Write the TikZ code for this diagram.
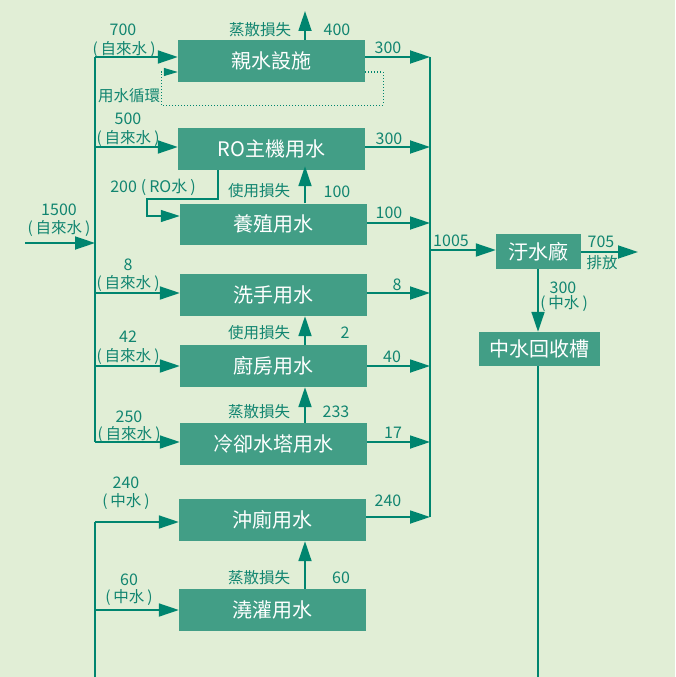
\documentclass[tikz,border=0pt]{standalone}
\usepackage{fontspec}
\setmainfont{Noto Sans CJK TC}
\usetikzlibrary{arrows.meta}
\definecolor{bg}{HTML}{E1EED6}
\definecolor{boxc}{HTML}{429E86}
\definecolor{linec}{HTML}{00856F}
\definecolor{txtc}{HTML}{118570}
\newcommand{\paren}[1]{(\hspace{3pt}#1\hspace{3pt})}
\begin{document}
\begin{tikzpicture}[x=1pt,y=-1pt,
 box/.style={fill=boxc, text=white, font=\fontsize{20}{20}\selectfont, minimum width=187pt, minimum height=42pt, inner sep=0pt, anchor=center},
 sbox/.style={fill=boxc, text=white, font=\fontsize{20}{20}\selectfont, minimum height=34pt, inner sep=0pt, anchor=center},
 flow/.style={draw=linec, line width=1.8pt, -{Triangle[length=20pt,width=13pt]}},
 tflow/.style={draw=linec, line width=1.3pt, -{Triangle[length=19pt,width=12pt]}},
 pipe/.style={draw=linec, line width=1.8pt},
 loop/.style={draw=linec, line width=1pt, dotted, -{Triangle[length=14pt,width=8pt]}},
 lbl/.style={text=txtc, font=\fontsize{16}{16}\selectfont, inner sep=0pt},
 plbl/.style={text=txtc, font=\fontsize{15.5}{15.5}\selectfont, inner sep=0pt},
]
\fill[bg] (0,0) rectangle (675,677);
\useasboundingbox (0,0) rectangle (675,677);

% boxes
\node[box] (b1) at (271.5,61) {親水設施};
\node[box] (b2) at (271.5,149) {RO主機用水};
\node[box, minimum height=41pt] (b3) at (273.5,224) {養殖用水};
\node[box] (b4) at (273.5,295) {洗手用水};
\node[box] (b5) at (273.5,366) {廚房用水};
\node[box] (b6) at (273.5,444) {冷卻水塔用水};
\node[box] (b7) at (272.5,520) {沖廁用水};
\node[box] (b8) at (272.5,610) {澆灌用水};
\node[sbox, minimum width=85pt, minimum height=35pt] (w) at (538.5,251.5) {汙水廠};
\node[sbox, minimum width=121pt] (r) at (539.5,349) {中水回收槽};

% left trunk
\coordinate (in) at (25,243);
\coordinate (tin) at (95,243);
\coordinate (a1) at (95,57);
\coordinate (a2) at (95,147);
\coordinate (a4) at (95,293);
\coordinate (a5) at (95,366);
\coordinate (a6) at (95,442);
\draw[pipe] (a1) -- (a6);
\draw[flow] (in) -- (tin);
\draw[flow] (a1) -- (a1 -| b1.west);
\draw[flow] (a2) -- (a2 -| b2.west);
\draw[flow] (a4) -- (a4 -| b4.west);
\draw[flow] (a5) -- (a5 -| b5.west);
\draw[flow] (a6) -- (a6 -| b6.west);

% lower trunk
\coordinate (a7) at (95,522);
\coordinate (a8) at (95,610);
\coordinate (abot) at (95,677);
\draw[pipe] (a7) -- (abot);
\draw[flow] (a7) -- (a7 -| b7.west);
\draw[flow] (a8) -- (a8 -| b8.west);

% collector
\coordinate (o1) at (430,57);
\coordinate (o2) at (430,147);
\coordinate (o3) at (430,223);
\coordinate (o4) at (430,293);
\coordinate (o5) at (430,366);
\coordinate (o6) at (430,442);
\coordinate (o7) at (430,517);
\coordinate (o0) at (430,250);
\draw[pipe] (o1) -- (o7);
\draw[flow] (o1 -| b1.east) -- (o1);
\draw[flow] (o2 -| b2.east) -- (o2);
\draw[flow] (o3 -| b3.east) -- (o3);
\draw[flow] (o4 -| b4.east) -- (o4);
\draw[flow] (o5 -| b5.east) -- (o5);
\draw[flow] (o6 -| b6.east) -- (o6);
\draw[flow] (o7 -| b7.east) -- (o7);
\draw[flow] (o0) -- (o0 -| w.west);

% outflow
\coordinate (e705) at (638,252);
\draw[flow] (e705 -| w.east) -- (e705);
\coordinate (wd) at (538,0);
\draw[flow] (wd |- w.south) -- (wd |- r.north);
\coordinate (rb) at (538,677);
\draw[pipe] (rb |- r.south) -- (rb);

% losses
\coordinate (k1) at (305,11);
\draw[flow] (k1 |- b1.north) -- (k1);
\draw[flow, shorten >=-4pt] (b3.north -| k1) -- (b2.south -| k1);
\draw[flow] (b5.north -| k1) -- (b4.south -| k1);
\draw[flow] (b6.north -| k1) -- (b5.south -| k1);
\draw[flow] (b8.north -| k1) -- (b7.south -| k1);

% RO water path
\coordinate (ro1) at (218,199);
\coordinate (ro2) at (147,199);
\coordinate (ro3) at (147,216);
\draw[tflow] (b2.south -| ro1) -- (ro1) -- (ro2) -- (ro3) -- (ro3 -| b3.west);

% recycling loop
\coordinate (d1) at (383,72);
\coordinate (d2) at (383,105);
\coordinate (d3) at (161,105);
\coordinate (d4) at (161,72);
\draw[loop] (d1 -| b1.east) -- (d1) -- (d2) -- (d3) -- (d4) -- (d4 -| b1.west);
\node[plbl] (lloop) at (129,96) {用水循環};

% left labels
\node[lbl] (l1500) at (59,210) {1500};
\node[plbl] (l1500b) at (59,228) {\paren{自來水}};
\node[lbl] (l700) at (123,30) {700};
\node[plbl] (l700b) at (124,49) {\paren{自來水}};
\node[lbl] (l500) at (128,119) {500};
\node[plbl] (l500b) at (128,138) {\paren{自來水}};
\node[lbl] (l200) at (153,187) {200\hspace{4pt}\paren{RO水}};
\node[lbl] (l8) at (128,265) {8};
\node[plbl] (l8b) at (128,283) {\paren{自來水}};
\node[lbl] (l42) at (128,337) {42};
\node[plbl] (l42b) at (128,356) {\paren{自來水}};
\node[lbl] (l250) at (129,417) {250};
\node[plbl] (l250b) at (129,434) {\paren{自來水}};
\node[lbl] (l240) at (126,483) {240};
\node[plbl] (l240b) at (126,502) {\paren{中水}};
\node[lbl] (l60) at (129,580) {60};
\node[plbl] (l60b) at (129,598) {\paren{中水}};

% loss labels
\node[plbl] (s1) at (260,30) {蒸散損失};
\node[lbl] (n1) at (337,30) {400};
\node[plbl] (s2) at (259,191) {使用損失};
\node[lbl] (n2) at (337,192) {100};
\node[plbl] (s3) at (259,333) {使用損失};
\node[lbl] (n3) at (345,333) {2};
\node[plbl] (s4) at (259,412) {蒸散損失};
\node[lbl] (n4) at (336,412) {233};
\node[plbl] (s5) at (259,578) {蒸散損失};
\node[lbl] (n5) at (341,578) {60};

% right labels
\node[lbl] (r1) at (388,48) {300};
\node[lbl] (r2) at (389,139) {300};
\node[lbl] (r3) at (389,213) {100};
\node[lbl] (r4) at (397,285) {8};
\node[lbl] (r5) at (392,357) {40};
\node[lbl] (r6) at (393,433) {17};
\node[lbl] (r7) at (388,501) {240};
\node[lbl] (r0) at (451,241) {1005};
\node[lbl] (e1) at (601,242) {705};
\node[plbl] (e2) at (602,263) {排放};
\node[lbl] (m1) at (563,288) {300};
\node[plbl] (m2) at (564,304) {\paren{中水}};
\end{tikzpicture}
\end{document}
